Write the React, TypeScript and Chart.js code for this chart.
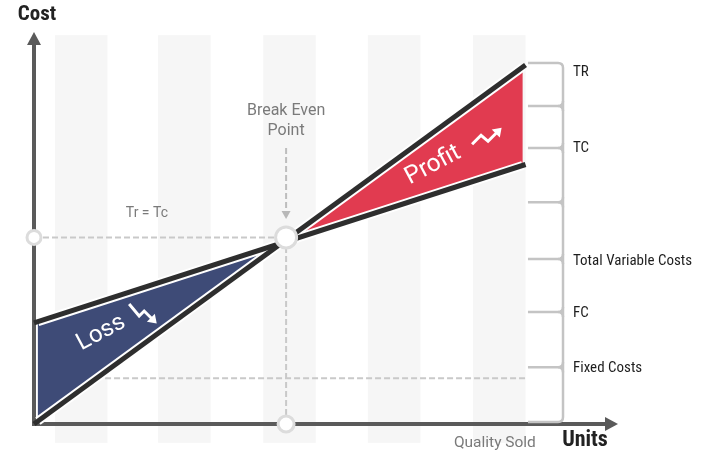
import React, { useEffect, useRef } from "react";
import { Chart, registerables } from "chart.js";

Chart.register(...registerables);

// ---- data (units sold on x, cost on y) ----
const unitsMax = 120;
const costMax = 100;

const lineUnits = [0, 101];
const totalRevenue = [0, 91.6];
const totalCost = [25.8, 66.2];
const breakEven = [51.8, 47.6];
const fillUnits = [0.8, 100.4];

const fixedCostLevel = 11.7;
const fixedCostUnits = [14.6, 100.9];
const leaderCost = [70.4, 52.8];

const stripeStarts = [4.3, 25.5, 47.1, 68.6, 90.2];
const stripeWidth = 10.8;
const stripeCost = [99.2, -4.8];

const braceTicks = [92.1, 81.1, 70.4, 56.6, 42.1, 28.6, 14.5, 0.5];
const braceUnits = [101.5, 108.7];
const braceLabels = ["TR", "TC", "Total Variable Costs", "FC", "Fixed Costs"];
const braceLabelCost = [89.8, 70.4, 41.6, 28.3, 14.3];

const lossLabelAt = [13.8, 23.2];
const profitLabelAt = [82.0, 66.0];

const NARROW = '"Liberation Sans Narrow", "Roboto Condensed", "DejaVu Sans Condensed", sans-serif';
const REG = 'Roboto, "Noto Sans", sans-serif';

const lin = (arr: number[], u: number) =>
  arr[0] + ((arr[1] - arr[0]) * (u - lineUnits[0])) / (lineUnits[1] - lineUnits[0]);
const tr = (u: number) => lin(totalRevenue, u);
const tc = (u: number) => lin(totalCost, u);
const sTr = (totalRevenue[1] - totalRevenue[0]) / (lineUnits[1] - lineUnits[0]);
const sTc = (totalCost[1] - totalCost[0]) / (lineUnits[1] - lineUnits[0]);
const crossU = (totalCost[0] - totalRevenue[0]) / (sTr - sTc);

const decor = {
  id: "decor",
  beforeDatasetsDraw(chart: any) {
    const { ctx, chartArea } = chart;
    const px = (v: number) => chart.scales.x.getPixelForValue(v);
    const py = (v: number) => chart.scales.y.getPixelForValue(v);
    ctx.save();
    ctx.fillStyle = "#f6f6f6";
    stripeStarts.forEach((s) => {
      const x1 = px(s), x2 = px(s + stripeWidth);
      const y1 = py(stripeCost[0]), y2 = py(stripeCost[1]);
      ctx.fillRect(x1, y1, x2 - x1, y2 - y1);
    });
    // axes
    const ox = chartArea.left, oy = chartArea.bottom;
    ctx.strokeStyle = "#5a5a5a";
    ctx.fillStyle = "#5a5a5a";
    ctx.lineWidth = 4;
    ctx.beginPath();
    ctx.moveTo(ox, oy + 2);
    ctx.lineTo(ox, chartArea.top + 12);
    ctx.stroke();
    ctx.beginPath();
    ctx.moveTo(ox - 2, oy);
    ctx.lineTo(chartArea.right - 12, oy);
    ctx.stroke();
    ctx.beginPath();
    ctx.moveTo(ox, chartArea.top);
    ctx.lineTo(ox + 7, chartArea.top + 13);
    ctx.lineTo(ox - 7, chartArea.top + 13);
    ctx.closePath();
    ctx.fill();
    ctx.beginPath();
    ctx.moveTo(chartArea.right, oy);
    ctx.lineTo(chartArea.right - 13, oy - 7);
    ctx.lineTo(chartArea.right - 13, oy + 7);
    ctx.closePath();
    ctx.fill();
    ctx.restore();
  },
  afterDatasetsDraw(chart: any) {
    const { ctx, chartArea } = chart;
    const px = (v: number) => chart.scales.x.getPixelForValue(v);
    const py = (v: number) => chart.scales.y.getPixelForValue(v);
    ctx.save();
    // braces
    const xL = px(braceUnits[0]), xV = px(braceUnits[1]);
    const r = 5;
    ctx.strokeStyle = "#c4c4c4";
    ctx.lineWidth = 2.5;
    ctx.lineCap = "butt";
    const n = braceTicks.length;
    braceTicks.forEach((t, i) => {
      const y = py(t);
      ctx.beginPath();
      ctx.moveTo(xL, y);
      ctx.lineTo(xV - r, y);
      if (i > 0) ctx.quadraticCurveTo(xV, y, xV, y - r);
      ctx.stroke();
      if (i < n - 1) {
        ctx.beginPath();
        ctx.moveTo(xV - r, y);
        ctx.quadraticCurveTo(xV, y, xV, y + r);
        ctx.stroke();
      }
    });
    ctx.beginPath();
    ctx.moveTo(xV, py(braceTicks[0]) + r);
    ctx.lineTo(xV, py(braceTicks[n - 1]) - r);
    ctx.stroke();

    // brace labels
    ctx.fillStyle = "#1e1e1e";
    ctx.font = `15px ${NARROW}`;
    ctx.textAlign = "left";
    ctx.textBaseline = "middle";
    braceLabels.forEach((l, i) => ctx.fillText(l, xV + 10, py(braceLabelCost[i])));

    // axis titles
    ctx.fillStyle = "#222";
    ctx.font = `bold 21px ${NARROW}`;
    ctx.textAlign = "center";
    ctx.fillText("Cost", chartArea.left + 3, 15);
    ctx.font = `bold 22px ${NARROW}`;
    ctx.fillText("Units", chartArea.right - 33, 440);
    ctx.fillStyle = "#7a7a7a";
    ctx.font = `15.5px ${REG}`;
    ctx.fillText("Quality Sold", px(94.7), 443);

    // break even label + leader arrow
    const bx = px(breakEven[0]);
    ctx.font = `16px ${REG}`;
    ctx.fillText("Break Even", bx, 111);
    ctx.fillText("Point", bx, 131);
    ctx.font = `14px ${REG}`;
    ctx.fillText("Tr = Tc", px(23.2), py(breakEven[1]) - 24);
    ctx.beginPath();
    const ay = py(leaderCost[1]);
    ctx.fillStyle = "#b8b8b8";
    ctx.moveTo(bx, ay + 2);
    ctx.lineTo(bx - 4.5, ay - 6);
    ctx.lineTo(bx + 4.5, ay - 6);
    ctx.closePath();
    ctx.fill();

    // Loss / Profit labels
    const drawLabel = (txt: string, at: number[], size: number, icon: number[][]) => {
      const cx = px(at[0]), cy = py(at[1]);
      ctx.save();
      ctx.translate(cx, cy);
      ctx.rotate((-28 * Math.PI) / 180);
      ctx.fillStyle = "#ffffff";
      ctx.font = `${size}px ${REG}`;
      ctx.textAlign = "center";
      ctx.textBaseline = "middle";
      ctx.fillText(txt, 0, 0);
      ctx.restore();
      // icon
      ctx.save();
      ctx.strokeStyle = "#ffffff";
      ctx.fillStyle = "#ffffff";
      ctx.lineWidth = 3;
      ctx.lineJoin = "miter";
      ctx.beginPath();
      icon.forEach((p, i) => (i ? ctx.lineTo(cx + p[0], cy + p[1]) : ctx.moveTo(cx + p[0], cy + p[1])));
      ctx.stroke();
      const a = icon[icon.length - 2], b = icon[icon.length - 1];
      const ang = Math.atan2(b[1] - a[1], b[0] - a[0]);
      const tx = cx + b[0] + Math.cos(ang) * 5, ty = cy + b[1] + Math.sin(ang) * 5;
      ctx.beginPath();
      ctx.moveTo(tx, ty);
      ctx.lineTo(tx - Math.cos(ang - 0.6) * 10, ty - Math.sin(ang - 0.6) * 10);
      ctx.lineTo(tx - Math.cos(ang + 0.6) * 10, ty - Math.sin(ang + 0.6) * 10);
      ctx.closePath();
      ctx.fill();
      ctx.restore();
    };
    drawLabel("Loss", lossLabelAt, 24, [
      [28, -29],
      [38, -17],
      [43, -22],
      [52, -13],
    ]);
    drawLabel("Profit", profitLabelAt, 24.5, [
      [39, -21],
      [48, -30],
      [55, -24],
      [65, -34],
    ]);
    ctx.restore();
  },
};

export default function App() {
  const ref = useRef<HTMLCanvasElement>(null);
  useEffect(() => {
    if (!ref.current) return;
    const ix = crossU;
    const lossShape = [
      { x: fillUnits[0], y: tc(fillUnits[0]) },
      { x: ix, y: tr(ix) },
      { x: fillUnits[0], y: tr(fillUnits[0]) },
    ];
    const profitShape = [
      { x: ix, y: tr(ix) },
      { x: fillUnits[1], y: tr(fillUnits[1]) },
      { x: fillUnits[1], y: tc(fillUnits[1]) },
    ];
    const line = (pts: { x: number; y: number }[], color: string, width: number, order: number, dash: number[] = []) => ({
      type: "line" as const,
      data: pts,
      borderColor: color,
      borderWidth: width,
      borderDash: dash,
      pointRadius: 0,
      fill: false,
      tension: 0,
      clip: false as any,
      order,
    });
    const dashC = "#c9c9c9";
    const chart = new Chart(ref.current, {
      type: "scatter",
      data: {
        datasets: [
          {
            type: "line",
            data: lossShape,
            borderWidth: 0,
            backgroundColor: "#3e4b77",
            fill: "shape",
            pointRadius: 0,
            order: 20,
          } as any,
          {
            type: "line",
            data: profitShape,
            borderWidth: 0,
            backgroundColor: "#e13b50",
            fill: "shape",
            pointRadius: 0,
            order: 20,
          } as any,
          line(
            [
              { x: 0, y: breakEven[1] },
              { x: breakEven[0], y: breakEven[1] },
            ],
            dashC,
            2,
            18,
            [6, 3]
          ),
          line(
            [
              { x: breakEven[0], y: 0 },
              { x: breakEven[0], y: breakEven[1] },
            ],
            dashC,
            2,
            18,
            [6, 3]
          ),
          line(
            [
              { x: breakEven[0], y: leaderCost[0] },
              { x: breakEven[0], y: leaderCost[1] },
            ],
            "#bdbdbd",
            2,
            18,
            [6, 3]
          ),
          line(
            [
              { x: fixedCostUnits[0], y: fixedCostLevel },
              { x: fixedCostUnits[1], y: fixedCostLevel },
            ],
            dashC,
            2,
            18,
            [6, 3]
          ),
          line(fillUnits.map((u) => ({ x: u, y: tr(u) })), "#ffffff", 9, 15),
          line(fillUnits.map((u) => ({ x: u, y: tc(u) })), "#ffffff", 9, 15),
          line(lineUnits.map((u, i) => ({ x: u, y: totalRevenue[i] })), "#2e2e2e", 5, 10),
          line(lineUnits.map((u, i) => ({ x: u, y: totalCost[i] })), "#2e2e2e", 5, 10),
          {
            type: "scatter",
            data: [
              { x: 0, y: breakEven[1] },
              { x: breakEven[0], y: breakEven[1] },
              { x: breakEven[0], y: 0 },
            ],
            pointRadius: [7, 10.5, 8],
            pointBackgroundColor: "#ffffff",
            pointBorderColor: "#dcdcdc",
            pointBorderWidth: 3,
            clip: false,
            order: 1,
          } as any,
        ],
      },
      options: {
        animation: false,
        responsive: false,
        events: [],
        layout: { padding: { left: 34, right: 84, top: 32, bottom: 28 } },
        scales: {
          x: { type: "linear", min: 0, max: unitsMax, display: false },
          y: { type: "linear", min: 0, max: costMax, display: false },
        },
        plugins: {
          legend: { display: false },
          tooltip: { enabled: false },
        },
      },
      plugins: [decor],
    });
    return () => chart.destroy();
  }, []);
  return (
    <div style={{ position: "fixed", left: 0, top: 0, width: 702, height: 452, background: "#fff" }}>
      <canvas ref={ref} width={702} height={452} style={{ display: "block" }} />
    </div>
  );
}
